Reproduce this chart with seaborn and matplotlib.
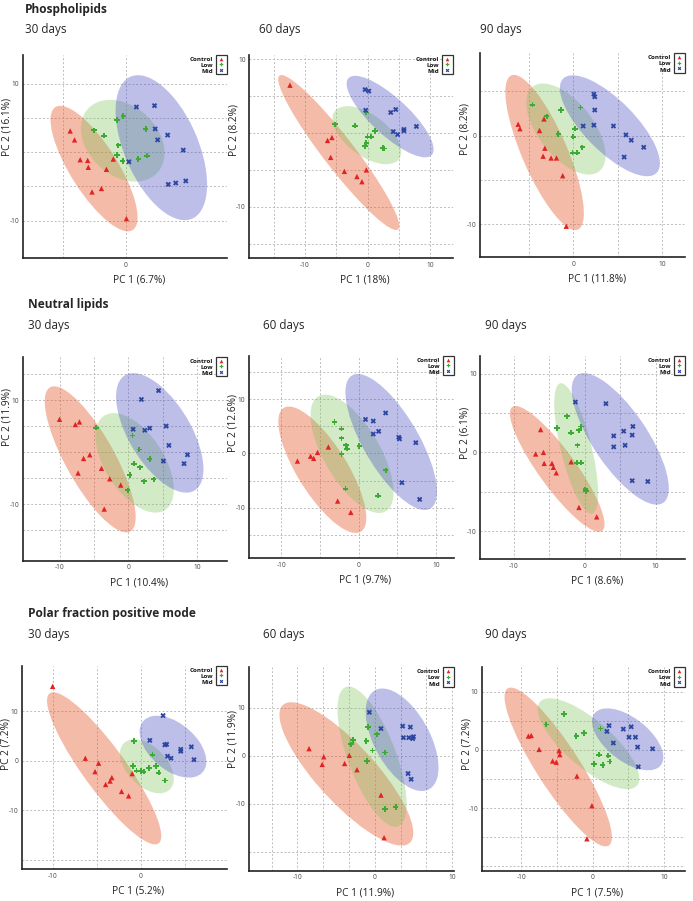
import numpy as np
import pandas as pd
import matplotlib
matplotlib.use('Agg')
import matplotlib.pyplot as plt
import seaborn as sns
from matplotlib.patches import Ellipse
from matplotlib.lines import Line2D

# ---- values ----
sections = ['Phospholipids', 'Neutral lipids', 'Polar fraction positive mode']
days = ['30 days', '60 days', '90 days']
groups = ['Control', 'Low', 'Mid']

pc1_labels = ['PC 1 (6.7%)', 'PC 1 (18%)', 'PC 1 (11.8%)',
              'PC 1 (10.4%)', 'PC 1 (9.7%)', 'PC 1 (8.6%)',
              'PC 1 (5.2%)', 'PC 1 (11.9%)', 'PC 1 (7.5%)']
pc2_labels = ['PC 2 (16.1%)', 'PC 2 (8.2%)', 'PC 2 (8.2%)',
              'PC 2 (11.9%)', 'PC 2 (12.6%)', 'PC 2 (6.1%)',
              'PC 2 (7.2%)', 'PC 2 (11.9%)', 'PC 2 (7.2%)']

# Phospholipids
phos30_control_x = [-8.9, -8.2, -7.3, -6.1, -6.0, -3.1, -2.0, -3.9, -5.4, 0.1]
phos30_control_y = [3.1, 1.8, -1.1, -1.2, -2.2, -2.5, -1.0, -5.3, -5.8, -9.7]
phos30_low_x = [-5.1, -3.5, -1.4, -0.4, -1.2, -1.4, -0.5, 2.0, 3.2, 3.4]
phos30_low_y = [3.2, 2.4, 4.7, 5.3, 1.0, -0.4, -1.3, -1.0, 3.4, -0.5]
phos30_mid_x = [1.7, 4.6, 4.7, 5.1, 6.7, 9.2, 0.5, 6.8, 8.0, 9.6]
phos30_mid_y = [6.6, 6.8, 3.4, 1.8, 2.5, 0.3, -1.4, -4.7, -4.5, -4.2]

phos60_control_x = [-12.4, -6.4, -5.7, -5.9, -3.7, -1.7, -0.9, -0.2]
phos60_control_y = [6.5, -1.0, -0.6, -3.3, -5.2, -5.9, -6.6, -5.0]
phos60_low_x = [-5.2, -2.0, -0.2, 1.2, 0.0, 0.6, -0.2, -0.4, 2.4, 2.6]
phos60_low_y = [1.2, 1.0, 2.8, 0.3, -0.5, -0.5, -1.3, -1.8, -2.0, -2.1]
phos60_mid_x = [-0.4, 0.2, -0.3, 3.7, 4.5, 4.1, 4.8, 5.8, 5.8, 7.8]
phos60_mid_y = [5.9, 5.7, 3.1, 2.8, 3.2, 0.2, -0.2, 0.5, 0.3, 0.9]

phos90_control_x = [-6.2, -6.0, -3.8, -3.3, -3.2, -3.4, -2.5, -1.9, -1.2, -0.8]
phos90_control_y = [1.3, 0.8, 0.6, 1.9, -1.4, -2.3, -2.5, -2.5, -4.5, -10.2]
phos90_low_x = [-4.6, -3.0, -1.4, -1.7, 0.8, 0.2, 0.0, 1.0, -0.1, 0.4]
phos90_low_y = [3.5, 2.2, 2.9, 0.2, 3.2, 0.8, -0.1, -1.3, -1.9, -1.9]
phos90_mid_x = [2.3, 2.4, 2.4, 1.1, 2.3, 4.5, 5.9, 6.5, 7.9, 5.7]
phos90_mid_y = [4.7, 4.4, 2.9, 1.1, 1.2, 1.1, 0.1, -0.5, -1.3, -2.4]

# Neutral lipids
neut30_control_x = [-10.0, -7.7, -7.1, -6.5, -5.6, -7.3, -3.9, -2.7, -1.1, -3.5]
neut30_control_y = [6.3, 5.3, 5.8, -1.2, -0.5, -4.0, -3.1, -5.1, -6.3, -10.9]
neut30_low_x = [-4.7, 0.6, 1.6, 0.8, 1.7, 3.1, 0.2, 2.3, 3.7, -0.1]
neut30_low_y = [4.7, 3.2, 0.5, -2.2, -2.9, -1.3, -4.4, -5.6, -5.2, -7.3]
neut30_mid_x = [4.4, 1.9, 0.7, 2.4, 3.1, 5.5, 5.9, 5.1, 8.1, 8.6]
neut30_mid_y = [11.8, 10.1, 4.4, 4.2, 4.6, 5.0, 1.3, -1.7, -2.2, -0.5]

neut60_control_x = [-7.9, -6.2, -5.8, -5.3, -3.9, -2.7, -1.0]
neut60_control_y = [-1.4, -0.5, -0.9, 0.2, 1.2, -8.8, -10.9]
neut60_low_x = [-3.1, -2.2, -2.2, -1.6, -1.5, 0.1, -2.2, 3.5, -1.7, 2.5]
neut60_low_y = [5.8, 4.6, 2.8, 1.5, 0.9, 1.4, -0.1, -3.1, -6.5, -7.8]
neut60_mid_x = [0.9, 1.9, 3.5, 2.6, 1.9, 5.2, 5.3, 7.4, 5.6, 7.9]
neut60_mid_y = [6.3, 6.0, 7.5, 4.1, 3.6, 3.0, 2.7, 2.0, -5.4, -8.5]

neut90_control_x = [-6.2, -6.9, -5.8, -5.7, -4.6, -4.4, -4.0, -1.9, -0.8, 1.7]
neut90_control_y = [2.9, -0.2, 0.0, -1.4, -1.4, -1.9, -2.6, -1.2, -7.0, -8.2]
neut90_low_x = [-2.5, -3.9, -1.9, -0.8, -0.5, -1.0, -1.1, -0.5, 0.1, 0.2]
neut90_low_y = [4.6, 3.1, 2.5, 2.8, 3.3, 0.9, -1.3, -1.3, -4.7, -4.9]
neut90_mid_x = [-1.3, 3.0, 4.1, 5.5, 6.8, 6.7, 5.7, 4.1, 6.7, 8.9]
neut90_mid_y = [6.4, 6.2, 2.1, 2.7, 3.3, 2.2, 0.9, 0.7, -3.6, -3.7]

# Polar fraction positive mode
polar30_control_x = [-10.0, -6.3, -4.8, -5.2, -3.3, -3.5, -4.0, -2.2, -1.0, -1.4]
polar30_control_y = [15.0, 0.5, -0.5, -2.2, -3.4, -4.1, -4.8, -6.2, -2.6, -7.1]
polar30_low_x = [-0.8, 1.3, -0.9, -0.5, 0.0, 0.3, 0.9, 1.7, 2.0, 2.7]
polar30_low_y = [4.0, 1.2, -1.1, -2.0, -2.1, -2.2, -1.5, -1.1, -2.4, -4.0]
polar30_mid_x = [2.5, 1.0, 2.7, 2.9, 3.0, 3.4, 4.5, 4.5, 5.7, 6.0]
polar30_mid_y = [9.1, 4.1, 3.2, 3.3, 0.9, 0.5, 2.3, 1.9, 2.8, 0.2]

polar60_control_x = [-8.5, -6.6, -6.8, -3.9, -3.3, -2.3, 0.8, 1.2]
polar60_control_y = [1.5, -0.2, -1.8, -1.6, 0.1, -2.9, -8.2, -17.1]
polar60_low_x = [-2.8, -3.1, -0.9, -1.1, 0.3, -0.3, -1.0, 1.3, 1.3, 2.7]
polar60_low_y = [3.3, 2.4, 6.0, 3.1, 4.5, 1.1, -1.1, 0.7, -11.1, -10.7]
polar60_mid_x = [-0.7, 0.8, 3.6, 4.6, 3.7, 4.4, 5.0, 4.9, 4.3, 4.7]
polar60_mid_y = [9.1, 5.7, 6.2, 6.0, 3.8, 3.8, 4.0, 3.6, -3.7, -4.9]

polar90_control_x = [-9.0, -8.6, -7.5, -4.7, -4.6, -5.6, -5.1, -2.2, -0.1, -0.8]
polar90_control_y = [2.4, 2.5, 0.1, -0.1, -0.8, -1.9, -2.1, -4.5, -9.6, -15.3]
polar90_low_x = [-6.5, -4.0, -2.3, -1.2, 1.1, 0.9, 2.2, 2.4, 0.2, 1.4]
polar90_low_y = [4.4, 6.2, 2.4, 2.9, 3.7, -0.8, -1.0, -2.0, -2.4, -2.6]
polar90_mid_x = [2.3, 2.0, 4.3, 5.4, 5.1, 6.0, 2.9, 6.3, 8.4, 6.4]
polar90_mid_y = [4.2, 3.2, 3.6, 4.0, 2.2, 2.2, 1.2, 0.5, 0.2, -2.9]

panel_points = [
    [(phos30_control_x, phos30_control_y), (phos30_low_x, phos30_low_y), (phos30_mid_x, phos30_mid_y)],
    [(phos60_control_x, phos60_control_y), (phos60_low_x, phos60_low_y), (phos60_mid_x, phos60_mid_y)],
    [(phos90_control_x, phos90_control_y), (phos90_low_x, phos90_low_y), (phos90_mid_x, phos90_mid_y)],
    [(neut30_control_x, neut30_control_y), (neut30_low_x, neut30_low_y), (neut30_mid_x, neut30_mid_y)],
    [(neut60_control_x, neut60_control_y), (neut60_low_x, neut60_low_y), (neut60_mid_x, neut60_mid_y)],
    [(neut90_control_x, neut90_control_y), (neut90_low_x, neut90_low_y), (neut90_mid_x, neut90_mid_y)],
    [(polar30_control_x, polar30_control_y), (polar30_low_x, polar30_low_y), (polar30_mid_x, polar30_mid_y)],
    [(polar60_control_x, polar60_control_y), (polar60_low_x, polar60_low_y), (polar60_mid_x, polar60_mid_y)],
    [(polar90_control_x, polar90_control_y), (polar90_low_x, polar90_low_y), (polar90_mid_x, polar90_mid_y)],
]

rows = []
for p, pts in enumerate(panel_points):
    for g, (xs, ys) in zip(groups, pts):
        for xv, yv in zip(xs, ys):
            rows.append({'panel': p, 'group': g, 'pc1': xv, 'pc2': yv})
df = pd.DataFrame(rows)

# ---- layout (pixels of the 693x901 canvas) ----
W, H = 693, 901
# left, right, top, bottom of each plot area
boxes = [
    (22.7, 227, 55, 258.3), (249.3, 452.7, 55, 258.3), (480.3, 684.7, 53.3, 257.3),
    (22.7, 226.7, 356.7, 560.7), (248.7, 453.7, 355.7, 558.3), (480.3, 684.7, 355.7, 559.3),
    (21.7, 226.7, 666, 869.3), (248.7, 453.7, 667.3, 870.7), (482, 684.7, 667.3, 870.7),
]
xlims = [(-16.5, 16.2), (-18.9, 13.6), (-10.45, 12.5),
         (-15.35, 14.3), (-14.2, 12.3), (-14.7, 14.1),
         (-13.5, 9.7), (-16.3, 10.2), (-15.5, 12.9)]
ylims = [(-15.5, 14.2), (-17.0, 10.6), (-13.7, 9.3),
         (-20.8, 18.3), (-19.4, 18.1), (-13.6, 12.3),
         (-21.9, 19.1), (-24.0, 18.5), (-20.8, 14.25)]
xgrids = [[-10, 0], [-15, -10, -5, 0, 5, 10], [-5, 0, 5, 10],
          [-10, -5, 0, 5, 10], [-10, -5, 0, 5, 10], [-10, -5, 0, 5, 10],
          [-10, -5, 0, 5], [-40 / 3, -10, -20 / 3, -10 / 3, 0, 10 / 3, 20 / 3, 10], [-10, -5, 0, 5, 10]]
ygrids = [[-10, -5, 0, 5, 10], [-15, -10, -5, 0, 5, 10], [-10, -5, 0, 5],
          [-15, -10, -5, 0, 5, 10, 15], [-15, -10, -5, 0, 5, 10, 15], [-10, -5, 0, 5, 10],
          [-20, -10, 0, 10], [-20, -10, 0, 10], [-20, -15, -10, -5, 0, 5, 10]]
xshown = [[0], [-10, 0, 10], [0, 10], [-10, 0, 10], [-10, 0, 10], [-10, 0, 10],
          [-10, 0], [-10, 0, 10], [-10, 0, 10]]
yshown = [[-10, 10], [-10, 10], [-10, 0], [-10, 10], [-10, 0, 10], [-10, 0, 10],
          [-10, 0, 10], [-10, 0, 10], [-10, 0, 10]]
ylab_pos = [0.647, 0.63, 0.63, 0.706, 0.666, 0.623, 0.615, 0.646, 0.622]

title_pos = [(25, 12.7), (28.3, 308.3), (28.3, 616.7)]
day_pos = [[(25, 32.7), (259.3, 32.7), (480.3, 32.7)],
           [(28.3, 329.3), (263.3, 329.3), (484.7, 329.3)],
           [(28.3, 638.3), (263.3, 638.3), (484.7, 638.3)]]

point_colors = {'Control': '#E02424', 'Low': '#3DAA35', 'Mid': '#2C46A0'}
fill_colors = {'Control': '#E8562A', 'Low': '#7CC055', 'Mid': '#4A4FC4'}
fill_alpha = {'Control': 0.4, 'Low': 0.33, 'Mid': 0.36}
shapes = {'Control': '^', 'Low': 'P', 'Mid': 'X'}

sns.set_style('white')
plt.rcParams['font.family'] = ['Open Sans', 'DejaVu Sans']

fig = plt.figure(figsize=(W / 100, H / 100), dpi=100)


def add_ellipse(ax, xs, ys, color, alpha):
    xs, ys = np.asarray(xs), np.asarray(ys)
    cov = np.cov(xs, ys)
    vals, vecs = np.linalg.eigh(cov)
    order = vals.argsort()[::-1]
    vals, vecs = vals[order], vecs[:, order]
    angle = np.degrees(np.arctan2(vecs[1, 0], vecs[0, 0]))
    k = np.sqrt(5.991)  # 95% region, 2 dof
    ell = Ellipse((xs.mean(), ys.mean()), 2 * k * np.sqrt(vals[0]), 2 * k * np.sqrt(vals[1]),
                  angle=angle, facecolor=color, alpha=alpha, edgecolor='none', zorder=1)
    ax.add_patch(ell)


for p in range(9):
    L, R, T, B = boxes[p]
    ax = fig.add_axes([L / W, 1 - B / H, (R - L) / W, (B - T) / H])
    sub = df[df['panel'] == p]

    for g in groups:
        gd = sub[sub['group'] == g]
        add_ellipse(ax, gd['pc1'], gd['pc2'], fill_colors[g], fill_alpha[g])

    sns.scatterplot(data=sub, x='pc1', y='pc2', hue='group', style='group',
                    palette=point_colors, markers=shapes, s=15, linewidth=0,
                    legend=False, ax=ax, zorder=3)

    ax.set_xlim(*xlims[p])
    ax.set_ylim(*ylims[p])
    ax.set_xticks(xgrids[p])
    ax.set_yticks(ygrids[p])
    ax.set_xticklabels([('%d' % round(v)) if any(abs(v - s) < 1e-6 for s in xshown[p]) else ''
                        for v in xgrids[p]])
    ax.set_yticklabels([('%d' % round(v)) if any(abs(v - s) < 1e-6 for s in yshown[p]) else ''
                        for v in ygrids[p]])
    ax.tick_params(length=0, labelsize=4.8, labelcolor='#444444', pad=2.5)
    ax.set_axisbelow(True)
    ax.grid(True, color='#bdbdbd', linestyle=(0, (2, 2)), linewidth=0.7)
    for side in ['top', 'right']:
        ax.spines[side].set_visible(False)
    for side in ['left', 'bottom']:
        ax.spines[side].set_color('#222222')
        ax.spines[side].set_linewidth(1.2)
    ax.set_xlabel('')
    ax.set_ylabel('')
    ax.text(0.57, -0.108, pc1_labels[p], transform=ax.transAxes, ha='center', va='center',
            fontsize=7.3, color='#222222')
    ax.text(-0.076, ylab_pos[p], pc2_labels[p], transform=ax.transAxes, ha='center', va='center',
            rotation=90, fontsize=7.3, color='#222222')

    # legend: marker column in a box, names to its left
    handles = [Line2D([], [], marker=shapes[g], color=point_colors[g], linestyle='none',
                      markersize=2.6, markeredgewidth=0) for g in groups]
    leg = ax.legend(handles, ['', '', ''], loc='upper right', bbox_to_anchor=(1, 1),
                    frameon=True, fancybox=False, fontsize=3.5, borderpad=0.35,
                    handlelength=1.6, handletextpad=0, labelspacing=0.1, borderaxespad=0)
    leg.get_frame().set_edgecolor('black')
    leg.get_frame().set_linewidth(0.9)
    for i, g in enumerate(groups):
        ax.annotate(g, xy=(1, 1), xycoords='axes fraction',
                    xytext=(-14.0 * 0.72, -(4.5 + 6.1 * i) * 0.72), textcoords='offset points',
                    ha='right', va='center', fontsize=4.5, fontweight='bold', color='#111111')

for s, (x, y) in enumerate(title_pos):
    fig.text(x / W, 1 - y / H, sections[s], fontsize=8.6, fontweight='bold', va='baseline', ha='left')
    for d, (dx, dy) in enumerate(day_pos[s]):
        fig.text(dx / W, 1 - dy / H, days[d], fontsize=8.4, va='baseline', ha='left')

fig.savefig('out.png', dpi=100)
